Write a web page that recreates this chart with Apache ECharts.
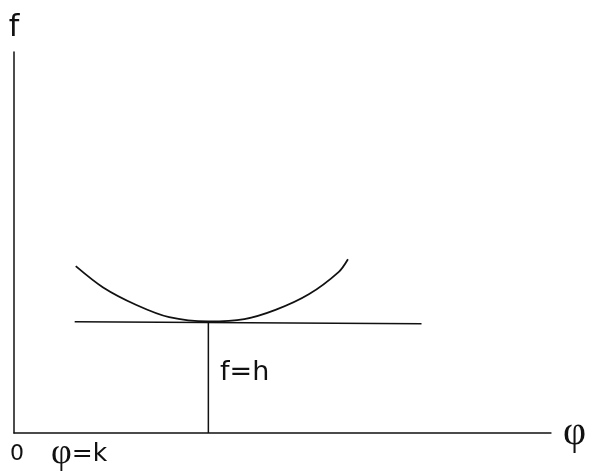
<!DOCTYPE html>
<html>
<head>
<meta charset="utf-8">
<script src="https://cdn.jsdelivr.net/npm/echarts@6/dist/echarts.min.js"></script>
<style>
  html, body { margin: 0; padding: 0; background: #fff; }
  #chart { width: 589px; height: 473px; }
</style>
</head>
<body>
<div id="chart"></div>
<script>
// curve f(φ) (axis units 0..100)
const curvePhi = [11.5, 16.6, 22.8, 28.9, 36.2, 42.9, 48.7, 54.9, 60.5, 62.2];
const curveF   = [43.8, 38.2, 33.6, 30.4, 29.3, 29.9, 32.3, 36.4, 42.3, 45.6];

// horizontal level line f = h
const levelPhi = [11.3, 75.9];
const levelF = [29.2, 28.7];

// vertical drop at φ = k
const dropPhi = [36.2, 36.2];
const dropF = [0, 29.1];

const ink = '#111';
const font = 'DejaVu Sans';
const greek = 'Liberation Serif';

function pairs(xs, ys) {
    return xs.map((x, i) => [x, ys[i]]);
}

var myChart = echarts.init(document.getElementById('chart'));

var option = {
    animation: false,
    backgroundColor: '#fff',
    grid: { left: 14, right: 36, top: 52, bottom: 40 },
    xAxis: {
        type: 'value',
        min: 0,
        max: 100,
        name: 'φ',
        nameLocation: 'end',
        nameGap: 12,
        nameTextStyle: { color: ink, fontSize: 40, fontFamily: greek, padding: [16, 0, 0, 0] },
        axisLine: { show: true, lineStyle: { color: ink, width: 1.5 } },
        axisTick: { show: false },
        axisLabel: { show: false },
        splitLine: { show: false }
    },
    yAxis: {
        type: 'value',
        min: 0,
        max: 100,
        name: 'f',
        nameLocation: 'end',
        nameGap: 9,
        nameTextStyle: { color: ink, fontSize: 30, fontFamily: font },
        axisLine: { show: true, lineStyle: { color: ink, width: 1.5 } },
        axisTick: { show: false },
        axisLabel: { show: false },
        splitLine: { show: false }
    },
    graphic: [
        { type: 'text', left: 10, top: 443, style: { text: '0', fill: ink, fontSize: 22, fontFamily: font } },
        {
            type: 'text', left: 51, top: 436,
            style: {
                text: '{g|φ}=k',
                fill: ink, fontSize: 25, fontFamily: font,
                rich: { g: { fontSize: 36, fontFamily: greek, fill: ink } }
            }
        },
        { type: 'text', left: 220, top: 359, style: { text: 'f=h', fill: ink, fontSize: 27, fontFamily: font } }
    ],
    series: [
        {
            type: 'line',
            data: pairs(curvePhi, curveF),
            smooth: 0.3,
            symbol: 'none',
            lineStyle: { color: ink, width: 1.8 }
        },
        {
            type: 'line',
            data: pairs(levelPhi, levelF),
            symbol: 'none',
            lineStyle: { color: ink, width: 1.5 }
        },
        {
            type: 'line',
            data: pairs(dropPhi, dropF),
            symbol: 'none',
            lineStyle: { color: ink, width: 1.5 }
        }
    ]
};

myChart.setOption(option);
</script>
</body>
</html>
